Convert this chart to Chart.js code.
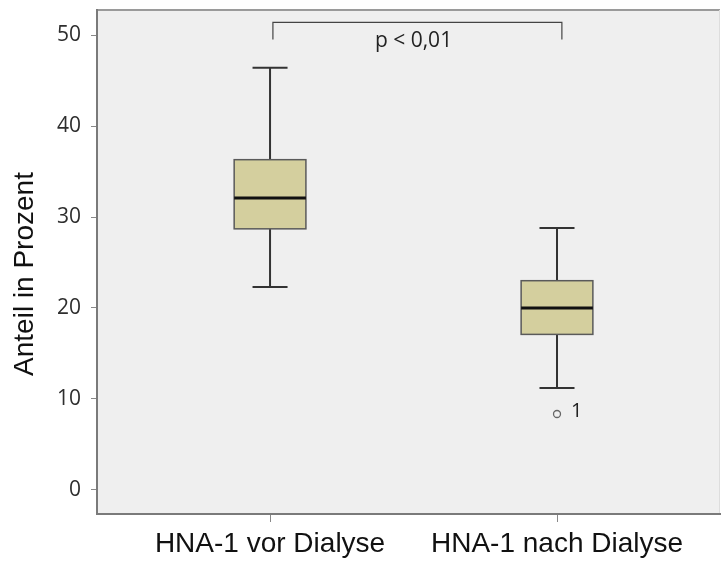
<!DOCTYPE html>
<html lang="de">
<head>
    <meta charset="UTF-8">
    <title>HNA-1 vor / nach Dialyse</title>
    <script src="https://cdn.jsdelivr.net/npm/chart.js"></script>
    <style>
        html, body {
            margin: 0;
            padding: 0;
            background-color: white;
        }
        #wrap {
            width: 721px;
            height: 563px;
        }
        canvas {
            display: block;
        }
    </style>
</head>
<body>
<div id="wrap">
    <canvas id="myChart" width="721" height="563"></canvas>
</div>

<script>
    // data
    const categories = ['HNA-1 vor Dialyse', 'HNA-1 nach Dialyse'];
    const whiskerLow = [22.3, 11.2];
    const q1 = [28.7, 17.1];
    const median = [32.1, 20.0];
    const q3 = [36.3, 23.0];
    const whiskerHigh = [46.4, 28.8];
    const outlierValues = [null, 8.35];
    const outlierLabels = [null, '1'];
    const yTicks = [0, 10, 20, 30, 40, 50];
    const pText = 'p < 0,01';
    const bracketTop = 51.4;
    const bracketBottom = 49.5;

    // sizes (in x units / px)
    const boxHalf = 0.125;
    const capHalf = 0.061;

    const outlierPoints = [];
    outlierValues.forEach(function (v, i) {
        if (v !== null) outlierPoints.push({ x: i + 1, y: v, label: outlierLabels[i] });
    });

    const boxPlugin = {
        id: 'boxPlugin',
        beforeDraw(chart) {
            const ctx = chart.ctx;
            const a = chart.chartArea;
            ctx.save();
            ctx.fillStyle = '#efefef';
            ctx.fillRect(a.left, a.top, a.right - a.left, a.bottom - a.top);
            // top frame line
            ctx.strokeStyle = '#9a9a9a';
            ctx.lineWidth = 2;
            ctx.beginPath();
            ctx.moveTo(a.left, a.top);
            ctx.lineTo(a.right, a.top);
            ctx.stroke();
            ctx.strokeStyle = '#dddddd';
            ctx.lineWidth = 1;
            ctx.beginPath();
            ctx.moveTo(a.right - 0.5, a.top);
            ctx.lineTo(a.right - 0.5, a.bottom);
            ctx.stroke();
            ctx.restore();
        },
        beforeDatasetsDraw(chart) {
            const ctx = chart.ctx;
            const xs = chart.scales.x;
            const ys = chart.scales.y;
            ctx.save();
            for (let i = 0; i < categories.length; i++) {
                const c = i + 1;
                const xc = xs.getPixelForValue(c);
                const xl = xs.getPixelForValue(c - boxHalf);
                const xr = xs.getPixelForValue(c + boxHalf);
                const cl = xs.getPixelForValue(c - capHalf);
                const cr = xs.getPixelForValue(c + capHalf);

                // whiskers
                ctx.strokeStyle = '#333333';
                ctx.lineWidth = 2;
                ctx.beginPath();
                ctx.moveTo(xc, ys.getPixelForValue(whiskerHigh[i]));
                ctx.lineTo(xc, ys.getPixelForValue(q3[i]));
                ctx.moveTo(xc, ys.getPixelForValue(q1[i]));
                ctx.lineTo(xc, ys.getPixelForValue(whiskerLow[i]));
                ctx.moveTo(cl, ys.getPixelForValue(whiskerHigh[i]));
                ctx.lineTo(cr, ys.getPixelForValue(whiskerHigh[i]));
                ctx.moveTo(cl, ys.getPixelForValue(whiskerLow[i]));
                ctx.lineTo(cr, ys.getPixelForValue(whiskerLow[i]));
                ctx.stroke();

                // box
                const yTop = ys.getPixelForValue(q3[i]);
                const yBot = ys.getPixelForValue(q1[i]);
                ctx.fillStyle = '#d4cf9e';
                ctx.fillRect(xl, yTop, xr - xl, yBot - yTop);
                ctx.strokeStyle = '#5a5a5a';
                ctx.lineWidth = 1.5;
                ctx.strokeRect(xl, yTop, xr - xl, yBot - yTop);

                // median
                ctx.strokeStyle = '#111111';
                ctx.lineWidth = 3;
                ctx.beginPath();
                ctx.moveTo(xl, ys.getPixelForValue(median[i]));
                ctx.lineTo(xr, ys.getPixelForValue(median[i]));
                ctx.stroke();
            }
            ctx.restore();
        },
        afterDraw(chart) {
            const ctx = chart.ctx;
            const xs = chart.scales.x;
            const ys = chart.scales.y;
            ctx.save();

            // significance bracket
            const bx1 = xs.getPixelForValue(1.01);
            const bx2 = xs.getPixelForValue(2.017);
            const bt = ys.getPixelForValue(bracketTop);
            const bb = ys.getPixelForValue(bracketBottom);
            ctx.strokeStyle = '#444444';
            ctx.lineWidth = 1.2;
            ctx.beginPath();
            ctx.moveTo(bx1, bb);
            ctx.lineTo(bx1, bt);
            ctx.lineTo(bx2, bt);
            ctx.lineTo(bx2, bb);
            ctx.stroke();

            ctx.fillStyle = '#222222';
            ctx.font = '21px "Open Sans"';
            ctx.textAlign = 'center';
            ctx.textBaseline = 'alphabetic';
            ctx.fillText(pText, xs.getPixelForValue(1.5), bt + 25);

            // outlier labels
            ctx.textAlign = 'left';
            ctx.textBaseline = 'middle';
            ctx.font = '20px "Open Sans"';
            outlierPoints.forEach(function (p) {
                ctx.fillText(p.label, xs.getPixelForValue(p.x) + 14, ys.getPixelForValue(p.y) - 3);
            });

            // y axis title
            ctx.translate(25, 274);
            ctx.rotate(-Math.PI / 2);
            ctx.textAlign = 'center';
            ctx.textBaseline = 'middle';
            ctx.font = '28px "Liberation Sans"';
            ctx.fillStyle = '#111111';
            ctx.fillText('Anteil in Prozent', 0, 0);
            ctx.restore();
        }
    };

    const ctx = document.getElementById('myChart').getContext('2d');
    const myChart = new Chart(ctx, {
        type: 'scatter',
        data: {
            datasets: [{
                label: 'Ausreißer',
                data: outlierPoints,
                pointStyle: 'circle',
                pointRadius: 3.5,
                pointBorderWidth: 1.3,
                borderColor: '#666666',
                backgroundColor: 'rgba(0,0,0,0)'
            }]
        },
        options: {
            responsive: false,
            animation: false,
            layout: {
                autoPadding: false,
                padding: { left: 0, top: 10, right: 1, bottom: 0 }
            },
            scales: {
                x: {
                    type: 'linear',
                    min: 0.397,
                    max: 2.568,
                    afterFit: function (scale) {
                        scale.height = 49;
                        scale.paddingLeft = 0;
                        scale.paddingRight = 0;
                    },
                    afterBuildTicks: function (scale) {
                        scale.ticks = categories.map(function (c, i) { return { value: i + 1 }; });
                    },
                    ticks: {
                        autoSkip: false,
                        maxRotation: 0,
                        padding: 5,
                        color: '#111111',
                        font: { family: 'Liberation Sans', size: 28, lineHeight: 1.2 },
                        callback: function (v) { return categories[v - 1]; }
                    },
                    grid: {
                        drawOnChartArea: false,
                        tickLength: 8,
                        tickColor: '#888888'
                    },
                    border: { color: '#7a7a7a', width: 2 }
                },
                y: {
                    min: -2.64,
                    max: 52.75,
                    afterFit: function (scale) {
                        scale.width = 97;
                        scale.paddingTop = 0;
                        scale.paddingBottom = 0;
                    },
                    afterBuildTicks: function (scale) {
                        scale.ticks = yTicks.map(function (v) { return { value: v }; });
                    },
                    ticks: {
                        padding: 10,
                        color: '#2e2e2e',
                        font: { family: 'Open Sans', size: 21, lineHeight: 1 }
                    },
                    grid: {
                        drawOnChartArea: false,
                        tickLength: 6,
                        tickColor: '#888888'
                    },
                    border: { color: '#7a7a7a', width: 2 }
                }
            },
            plugins: {
                legend: { display: false },
                tooltip: { enabled: false }
            }
        },
        plugins: [boxPlugin]
    });
</script>
</body>
</html>
